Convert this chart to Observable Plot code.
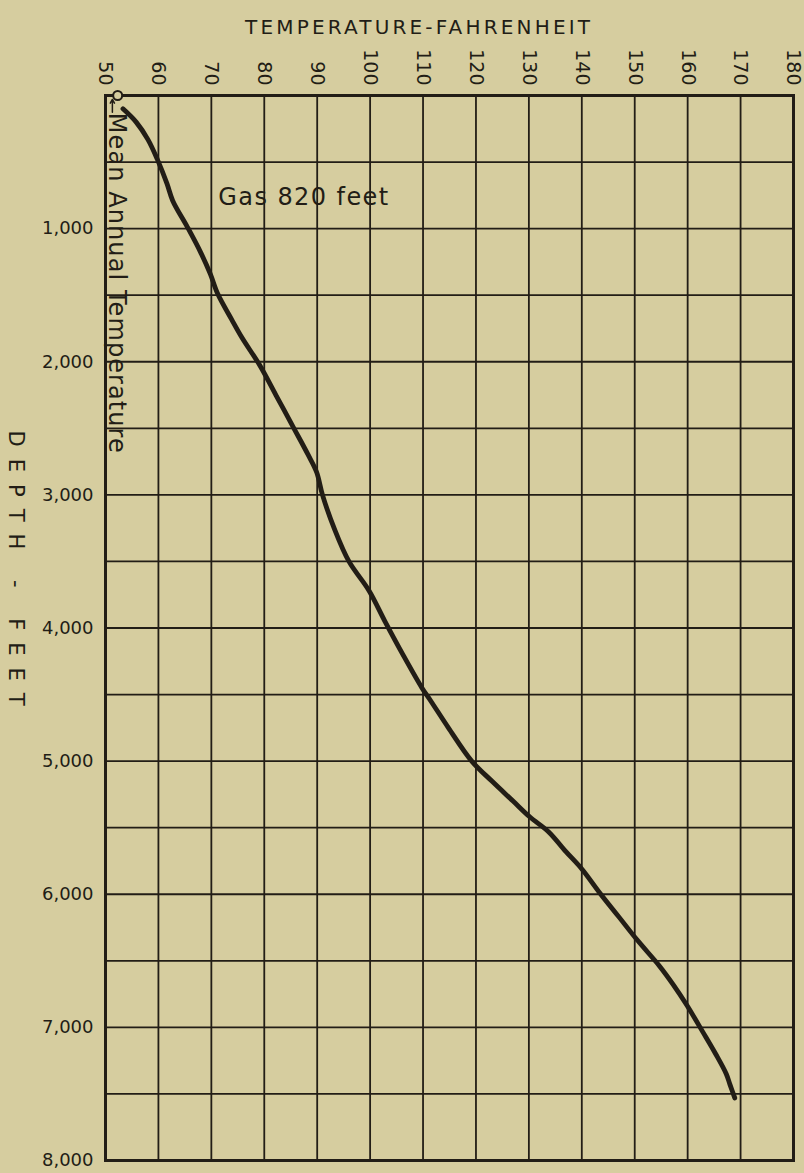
<!DOCTYPE html>
<html><head><meta charset="utf-8">
<script src="https://cdn.jsdelivr.net/npm/d3@7"></script>
<script src="https://cdn.jsdelivr.net/npm/@observablehq/plot@0.6"></script>
<style>
html,body{margin:0;padding:0;background:#d6cd9f;}
#chart svg{display:block;}
</style></head><body><div id="chart"></div>
<script>
// Tick labels / grid
const tempTicks = [50, 60, 70, 80, 90, 100, 110, 120, 130, 140, 150, 160, 170, 180];
const depthTicks = [1000, 2000, 3000, 4000, 5000, 6000, 7000, 8000];
const gridDepths = [0, 500, 1000, 1500, 2000, 2500, 3000, 3500, 4000, 4500, 5000, 5500, 6000, 6500, 7000, 7500, 8000];

// Temperature curve (depth in feet, temperature in °F)
const curveDepth = [100, 200, 330, 480, 660, 790, 990, 1180, 1340, 1490, 1680, 1820, 2030, 2250, 2500, 2700, 2830, 3000, 3250, 3500, 3720, 3950, 4200, 4450, 4550, 4750, 5000, 5150, 5300, 5420, 5530, 5680, 5810, 5990, 6170, 6350, 6540, 6680, 6830, 7030, 7200, 7350, 7430, 7530];
const curveTemp  = [53.3, 55.8, 58.0, 59.8, 61.6, 62.7, 65.5, 68.0, 69.8, 71.2, 73.8, 75.8, 79.2, 82.2, 85.6, 88.3, 89.9, 91.0, 93.2, 96.0, 99.8, 102.8, 106.2, 109.8, 111.5, 114.8, 119.2, 123.0, 127.0, 130.2, 133.7, 137.0, 140.0, 143.4, 147.0, 150.6, 154.7, 157.3, 159.8, 162.8, 165.3, 167.3, 168.0, 168.9];

// Annotations
const meanAnnualTemp = 52.3;
const gasDepth = 820;
const gasLabel = "Gas 820 feet";
const meanLabel = "Mean Annual Temperature";
const xTitle = "TEMPERATURE-FAHRENHEIT";
const yTitle = "DEPTH - FEET";

const curve = curveDepth.map((d, i) => ({depth: d, temp: curveTemp[i]}));
const ink = "#221d16";
const bg = "#d6cd9f";

const chart = Plot.plot({
  width: 804, height: 1173,
  marginLeft: 105, marginRight: 11, marginTop: 95, marginBottom: 13,
  style: {background: bg, fontFamily: "'DejaVu Sans', sans-serif", color: ink},
  x: {domain: [50, 180]},
  y: {domain: [0, 8000], reverse: true},
  marks: [
    Plot.ruleX(tempTicks, {stroke: ink, strokeWidth: 1.8}),
    Plot.ruleY(gridDepths, {stroke: ink, strokeWidth: 1.8}),
    Plot.frame({stroke: ink, strokeWidth: 3}),
    Plot.axisX(tempTicks, {anchor: "top", tickSize: 0, tickPadding: 10, tickRotate: 90, fontSize: 19, label: null, fill: ink}),
    Plot.axisY(depthTicks, {anchor: "left", tickSize: 0, tickPadding: 12, fontSize: 18, tickFormat: d3.format(","), label: null, fill: ink}),
    Plot.line(curve, {x: "temp", y: "depth", stroke: ink, strokeWidth: 4.8, curve: "catmull-rom", strokeLinecap: "round"}),
    Plot.arrow([{t: 51.3, y1: 125, y2: 30}], {x: "t", y1: "y1", y2: "y2", stroke: ink, strokeWidth: 1.5, headLength: 6}),
    Plot.dot([{t: meanAnnualTemp, d: 0}], {x: "t", y: "d", r: 4.5, stroke: ink, strokeWidth: 2, fill: bg}),
    Plot.text([{t: 52.2, d: 130, s: meanLabel}], {x: "t", y: "d", text: "s", rotate: 90, textAnchor: "start", lineAnchor: "middle", fontSize: 24, fill: ink}),
    Plot.text([{t: 71.3, d: gasDepth, s: gasLabel}], {x: "t", y: "d", text: "s", textAnchor: "start", lineAnchor: "bottom", fontSize: 24, fill: ink}),
    Plot.text([{s: xTitle}], {text: "s", frameAnchor: "top", dx: -32, dy: -62, lineAnchor: "bottom", fontSize: 20, fill: ink}),
    Plot.text([{s: yTitle, d: 3550}], {text: "s", y: "d", frameAnchor: "left", dx: -90, rotate: 90, textAnchor: "middle", lineAnchor: "middle", fontSize: 21, fill: ink})
  ]
});
document.getElementById("chart").append(chart);

// stretch lettering like the hand-lettered original
const lengths = {[meanLabel]: 340, [gasLabel]: 170, [xTitle]: 345, [yTitle]: 275};
chart.querySelectorAll("text").forEach(t => {
  const L = lengths[t.textContent];
  if (L) { t.setAttribute("textLength", L); t.setAttribute("lengthAdjust", "spacing"); }
});
</script></body></html>
